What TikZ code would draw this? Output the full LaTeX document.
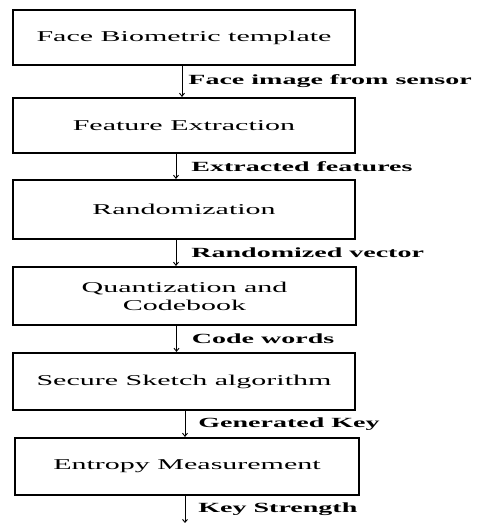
\documentclass[tikz,border=0pt]{standalone}
\usepackage{fontspec}
\usepackage{tikz}
\usepackage{xcolor}
\usetikzlibrary{arrows.meta, positioning, calc}
\setmainfont{Liberation Serif}[FakeStretch=2.0]
\tikzset{
	stagebox/.style ={rectangle, draw=black, line width=2.2pt, align=center, inner sep=0pt, font=\fontsize{15}{18}\selectfont},
	flowarr/.style  ={-{Straight Barb[length=3pt, width=5pt]}, line width=0.9pt},
	edgelab/.style  ={inner sep=0pt, anchor=west, font=\fontsize{14}{16}\selectfont\bfseries},
}

\begin{document}
\begin{tikzpicture}[x=1pt, y=-1pt]
	\useasboundingbox (0,0) rectangle (481,523);
	% processing stages: left/right/top/bottom edges in pixels
	\foreach \i/\xl/\xr/\yt/\yb/\lab in {
		1/13/355/10/65/{Face Biometric template},
		2/13/355/98/153/{Feature Extraction},
		3/13/355/180/239/{Randomization},
		4/13/356/267/325/{Quantization and\\Codebook},
		5/13/355/353/410/{Secure Sketch algorithm},
		6/15/359/438/495/{Entropy Measurement}} {
		\pgfmathsetmacro{\w}{\xr-\xl}
		\pgfmathsetmacro{\h}{\yb-\yt}
		\node[stagebox, minimum width=\w pt, minimum height=\h pt] (b\i) at ({(\xl+\xr)/2},{(\yt+\yb)/2}) {\lab};
	}
	\coordinate (keyout) at (185,523);
	% signals between stages
	\foreach \a/\b/\dx/\gap/\lab in {
		1/2/-2/6/{Face image from sensor},
		2/3/-8/15/{Extracted features},
		3/4/-8/15/{Randomized vector},
		4/5/-8/15/{Code words},
		5/6/1/13/{Generated Key}} {
		\draw[flowarr] ([xshift=\dx pt]b\a.south) -- ([xshift=\dx pt]b\a.south |- b\b.north)
			node[edgelab, midway, xshift=\gap pt] (l\a) {\lab};
	}
	\draw[flowarr] (keyout |- b6.south) -- (keyout)
		node[edgelab, midway, xshift=13pt] (l6) {Key Strength};
\end{tikzpicture}
\end{document}
